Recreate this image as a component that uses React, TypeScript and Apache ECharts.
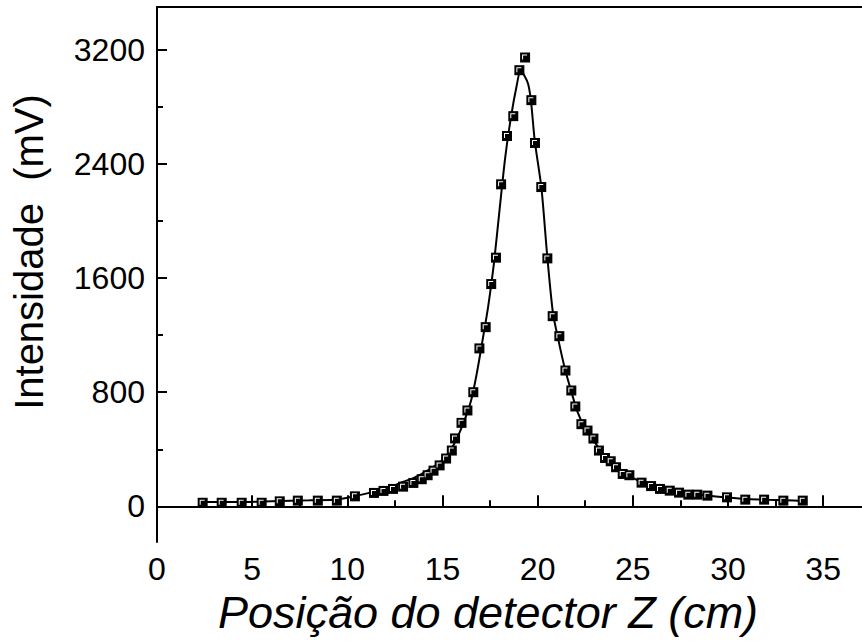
import { useEffect, useRef } from 'react'
import * as echarts from 'echarts'

const posX = [
  2.4, 3.4, 4.45, 5.5, 6.45, 7.4, 8.45, 9.45, 10.4, 11.4, 11.9, 12.4, 12.93, 13.47, 13.91, 14.22,
  14.53, 14.85, 15.19, 15.49, 15.66, 16.0, 16.31, 16.62, 16.94, 17.27, 17.56, 17.81, 18.08, 18.39,
  18.72, 19.04, 19.34, 19.67, 19.86, 20.19, 20.51, 20.79, 21.14, 21.46, 21.77, 21.98, 22.3, 22.62,
  22.93, 23.22, 23.54, 23.84, 24.12, 24.47, 24.82, 25.46, 25.96, 26.43, 26.94, 27.43, 27.92, 28.39,
  28.92, 29.95, 30.91, 31.9, 32.91, 33.93,
]
const intensidade = [
  25, 25, 25, 25, 35, 40, 40, 40, 70, 94, 108, 122, 138, 164, 190, 218,
  250, 287, 335, 391, 476, 585, 672, 800, 1107, 1256, 1558, 1743, 2257, 2596,
  2735, 3057, 3146, 2847, 2547, 2238, 1738, 1333, 1193, 952, 812, 700, 576, 531,
  475, 391, 339, 316, 274, 227, 218, 166, 142, 122, 110, 96, 82, 82,
  75, 63, 47, 47, 40, 40,
]

// Curva de ajuste
const ajusteX = [
  2.4, 4, 6, 8, 9.5, 10.5, 11.5, 12, 12.5, 13, 13.5, 14, 14.5, 15, 15.5, 16, 16.5, 16.8, 17.1,
  17.4, 17.7, 18.0, 18.3, 18.6, 18.9, 19.1, 19.3, 19.5, 19.65, 19.85, 20.2, 20.5, 20.8, 21.1,
  21.45, 21.8, 22.1, 22.5, 23, 23.5, 24, 24.5, 25, 25.5, 26, 26.5, 27, 27.5, 28, 29, 30, 31, 32,
  33, 34,
]
const ajusteY = [
  30, 30, 35, 42, 48, 75, 105, 125, 148, 175, 200, 235, 275, 325, 410, 550, 740, 930, 1160,
  1400, 1700, 2080, 2450, 2730, 2950, 3055, 3020, 2960, 2840, 2560, 2230, 1760, 1360, 1160,
  955, 790, 660, 545, 450, 355, 290, 235, 200, 168, 142, 122, 108, 96, 86, 74, 62, 52, 46,
  42, 38,
]

const xMajor = [0, 5, 10, 15, 20, 25, 30, 35]
const xMinor = [2.5, 7.5, 12.5, 17.5, 22.5, 27.5, 32.5]
const yMajor = [0, 800, 1600, 2400, 3200]
const yMinor = [400, 1200, 2000, 2800]

const FONT = '"Liberation Sans", Arial, sans-serif'

export default function App() {
  const elRef = useRef<HTMLDivElement>(null)

  useEffect(() => {
    if (!elRef.current) return
    const chart = echarts.init(elRef.current, null, { renderer: 'svg' })
    const pontos = posX.map((x, i) => [x, intensidade[i]])
    const ajuste = ajusteX.map((x, i) => [x, ajusteY[i]])
    const black = '#000'
    const plain = (v: number) => String(v)
    const xBase = { type: 'value', min: 0, max: 37.2, splitLine: { show: false } }
    const yBase = { type: 'value', min: -250, max: 3500, splitLine: { show: false } }

    chart.setOption({
      animation: false,
      backgroundColor: '#fff',
      grid: { left: 157, top: 7, width: 708, height: 535 },
      xAxis: [
        {
          ...xBase,
          position: 'bottom',
          axisLine: { show: true, lineStyle: { color: black, width: 2 } },
          axisTick: { show: true, inside: true, length: 11, customValues: xMajor, lineStyle: { color: black, width: 2 } },
          axisLabel: { customValues: xMajor, formatter: plain, color: black, fontSize: 32, fontFamily: FONT, margin: 11 },
        },
        {
          ...xBase,
          position: 'bottom',
          axisLine: { show: false },
          axisTick: { show: true, inside: true, length: 6, customValues: xMinor, lineStyle: { color: black, width: 2 } },
          axisLabel: { show: false },
        },
        {
          ...xBase,
          position: 'top',
          axisLine: { show: true, lineStyle: { color: black, width: 2 } },
          axisTick: { show: false },
          axisLabel: { show: false },
        },
      ],
      yAxis: [
        {
          ...yBase,
          position: 'left',
          axisLine: { show: true, lineStyle: { color: black, width: 2 } },
          axisTick: { show: true, inside: true, length: 10, customValues: yMajor, lineStyle: { color: black, width: 2 } },
          axisLabel: { customValues: yMajor, formatter: plain, color: black, fontSize: 32, fontFamily: FONT, margin: 12 },
        },
        {
          ...yBase,
          position: 'left',
          axisLine: { show: false },
          axisTick: { show: true, inside: true, length: 6, customValues: yMinor, lineStyle: { color: black, width: 2 } },
          axisLabel: { show: false },
        },
      ],
      graphic: [
        {
          type: 'text',
          x: 488,
          y: 612,
          style: {
            text: 'Posição do detector Z (cm)',
            font: `italic 45px ${FONT}`,
            fill: black,
            textAlign: 'center',
            textVerticalAlign: 'middle',
          },
        },
        {
          type: 'text',
          x: 29,
          y: 252,
          rotation: Math.PI / 2,
          style: {
            text: 'Intensidade  (mV)',
            font: `40px ${FONT}`,
            fill: black,
            textAlign: 'center',
            textVerticalAlign: 'middle',
          },
        },
      ],
      series: [
        {
          type: 'line',
          data: ajuste,
          showSymbol: false,
          smooth: 0.25,
          lineStyle: { color: black, width: 2 },
          z: 2,
        },
        {
          type: 'scatter',
          data: pontos,
          symbol: 'rect',
          symbolSize: 10,
          itemStyle: { color: black, opacity: 1 },
          z: 3,
        },
        {
          type: 'scatter',
          data: pontos,
          symbol: 'path://M0 0H5V1H1V5H0Z',
          symbolSize: 5,
          symbolOffset: [-0.5, -0.5],
          itemStyle: { color: '#fff', opacity: 1 },
          silent: true,
          z: 4,
        },
      ],
    })
    return () => chart.dispose()
  }, [])

  return (
    <div style={{ position: 'fixed', left: 0, top: 0, width: 862, height: 642, overflow: 'hidden', background: '#fff' }}>
      <div ref={elRef} style={{ width: 880, height: 642 }} />
    </div>
  )
}
